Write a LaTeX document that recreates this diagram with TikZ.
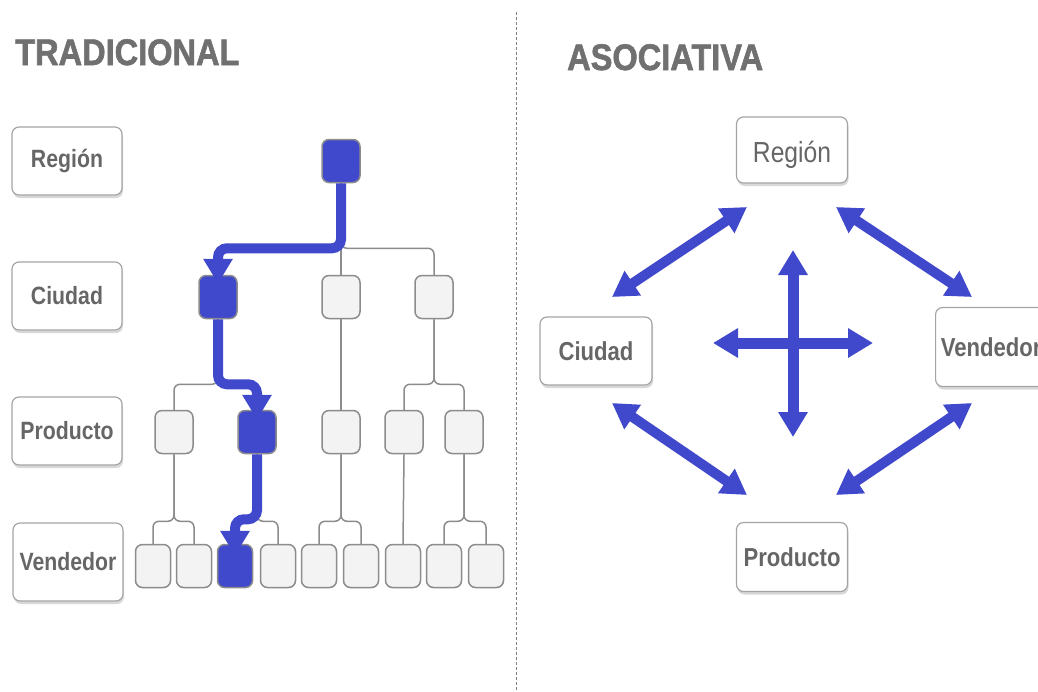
\documentclass[tikz,border=0pt]{standalone}
\usepackage{fontspec}
\setmainfont{Liberation Sans}
\newfontfamily\lblfont{Liberation Sans}[FakeStretch=0.85]
\newfontfamily\ttlfont{Liberation Sans}[FakeStretch=0.88,FakeBold=1.5]
\usetikzlibrary{arrows.meta,shadows,calc}
\definecolor{myblue}{RGB}{64,72,204}
\definecolor{boxgray}{RGB}{165,165,165}
\definecolor{nodegray}{RGB}{140,140,140}
\definecolor{nodefill}{RGB}{243,243,243}
\definecolor{linegray}{RGB}{140,140,140}
\definecolor{txtgray}{RGB}{102,102,102}
\definecolor{ttlgray}{RGB}{112,112,112}
\begin{document}
\begin{tikzpicture}[x=1pt,y=-1pt,
  lbl/.style={draw=boxgray, line width=1.2pt, rounded corners=7pt, fill=white,
    drop shadow={shadow xshift=1pt,shadow yshift=-3pt,opacity=0.3},
    minimum width=110pt, minimum height=68pt, inner sep=0pt, text=txtgray,
    font=\lblfont\bfseries\fontsize{25}{30}\selectfont},
  rlbl/.style={lbl, font=\lblfont\bfseries\fontsize{26}{30}\selectfont},
  tnode/.style={draw=nodegray, line width=1.5pt, rounded corners=7pt, fill=nodefill,
    minimum width=38pt, minimum height=43pt, inner sep=0pt},
  leaf/.style={tnode, minimum width=35pt},
  sel/.style={fill=myblue},
  conn/.style={draw=linegray, line width=1.5pt, rounded corners=6pt},
  bpath/.style={draw=myblue, line width=10pt, rounded corners=9pt,
    -{Triangle[width=28pt,length=25pt]}},
  barrow/.style={draw=myblue, line width=10pt,
    {Triangle[width=28pt,length=25pt]}-{Triangle[width=28pt,length=25pt]}},
  ttl/.style={anchor=base west, inner sep=0pt, text=ttlgray,
    font=\ttlfont\bfseries\fontsize{37}{40}\selectfont}
]
\useasboundingbox (0,0) rectangle (1038,691);
\clip (0,0) rectangle (1038,691);
\fill[white] (0,0) rectangle (1038,691);

% titles
\node[ttl] (t1) at (15,65) {TRADICIONAL};
\node[ttl] (t2) at (567,70) {ASOCIATIVA};

% divider
\draw[gray, line width=1pt, dash pattern=on 3pt off 2pt] (516,12) -- (516,691);

% left labels
\node[lbl] (lr) at (67,161) {Región};
\node[lbl] (lc) at (67,296) {Ciudad};
\node[lbl] (lp) at (67,431) {Producto};
\node[lbl, minimum height=78pt] (lv) at (68,562) {Vendedor};

% tree nodes
\node[tnode, sel] (t) at (341,161) {};
\node[tnode, sel] (c1) at (218,297) {};
\node[tnode] (c2) at (341,297) {};
\node[tnode] (c3) at (434,297) {};
\node[tnode] (p1) at (174,432) {};
\node[tnode, sel] (p2) at (257,432) {};
\node[tnode] (p3) at (341,432) {};
\node[tnode] (p4) at (404,432) {};
\node[tnode] (p5) at (464,432) {};
\node[leaf] (v1) at (153,566) {};
\node[leaf] (v2) at (194,566) {};
\node[leaf, sel] (v3) at (235,566) {};
\node[leaf] (v4) at (278,566) {};
\node[leaf] (v5) at (319,566) {};
\node[leaf] (v6) at (361,566) {};
\node[leaf] (v7) at (403,566) {};
\node[leaf] (v8) at (444,566) {};
\node[leaf] (v9) at (486,566) {};

% gray connectors
\draw[conn] (t.south) -- ++(0,65) -| (c1.north);
\draw[conn] (t.south) -- (c2.north);
\draw[conn] (t.south) -- ++(0,65) -| (c3.north);
\draw[conn] (c1.south) -- ++(0,65) -| (p1.north);
\draw[conn] (c1.south) -- ++(0,65) -| (p2.north);
\draw[conn] (c2.south) -- (p3.north);
\draw[conn] (c3.south) -- ++(0,65) -| (p4.north);
\draw[conn] (c3.south) -- ++(0,65) -| (p5.north);
\draw[conn] (p1.south) -- ++(0,67) -| (v1.north);
\draw[conn] (p1.south) -- ++(0,67) -| (v2.north);
\draw[conn] (p2.south) -- ++(0,67) -| (v3.north);
\draw[conn] (p2.south) -- ++(0,67) -| (v4.north);
\draw[conn] (p3.south) -- ++(0,67) -| (v5.north);
\draw[conn] (p3.south) -- ++(0,67) -| (v6.north);
\draw[conn] (p4.south) -- (v7.north);
\draw[conn] (p5.south) -- ++(0,67) -| (v8.north);
\draw[conn] (p5.south) -- ++(0,67) -| (v9.north);

% blue path
\draw[bpath] (t.south) -- ++(0,65) -| ([yshift=-9pt]c1.north);
\draw[bpath] (c1.south) -- ++(0,65) -| ([yshift=-10pt]p2.north);
\draw[bpath] (p2.south) -- ++(0,65) -| ([yshift=-12pt]v3.north);

% right side labels
\node[rlbl, font=\lblfont\fontsize{29}{32}\selectfont, minimum height=66pt, minimum width=111pt] (rr) at (792,150) {\raisebox{-12pt}[0pt][0pt]{Región}};
\node[rlbl, minimum width=112pt] (rc) at (596,351) {Ciudad};
\node[rlbl, minimum width=111pt, minimum height=69pt] (rp) at (792,557) {Producto};
\node[rlbl, minimum width=120pt, minimum height=79pt, anchor=west] (rv) at (935,347) {\hspace*{-9pt}Vendedor};

% arrow end points
\coordinate (ul1) at (612,297);
\coordinate (ul2) at (747,207);
\coordinate (ur1) at (836,207);
\coordinate (ur2) at (972,297);
\coordinate (ll1) at (612,403);
\coordinate (ll2) at (747,495);
\coordinate (lr1) at (836,495);
\coordinate (lr2) at (972,403);
\coordinate (cv1) at (793,250);
\coordinate (cv2) at (793,437);
\coordinate (ch1) at (713,343);
\coordinate (ch2) at (873,343);

\draw[barrow] (ul1) -- (ul2);
\draw[barrow] (ur1) -- (ur2);
\draw[barrow] (ll1) -- (ll2);
\draw[barrow] (lr1) -- (lr2);
\draw[barrow, line width=11pt] (cv1) -- (cv2);
\draw[barrow, line width=11pt] (ch1) -- (ch2);
\end{tikzpicture}
\end{document}
